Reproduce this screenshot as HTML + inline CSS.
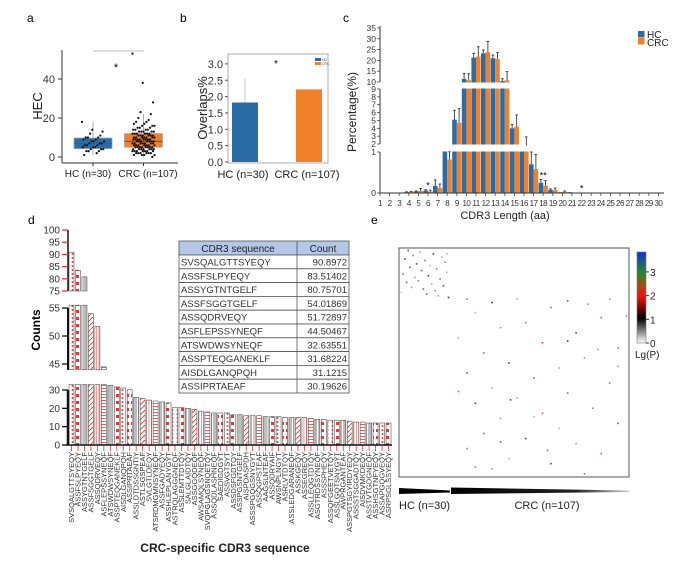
<!DOCTYPE html>
<html><head><meta charset="utf-8"><title>CDR3 figure</title>
<style>
html,body{margin:0;padding:0;background:#fff;}
svg{display:block;font-family:"Liberation Sans",sans-serif;}
</style></head>
<body>
<svg id="fig" width="691" height="565" viewBox="0 0 691 565">
<defs>
  <pattern id="pat-dots" patternUnits="userSpaceOnUse" width="5" height="4"><rect width="5" height="4" fill="#fff"/><circle cx="2.5" cy="2" r="1" fill="#e8383a"/></pattern>
  <pattern id="pat-blocks" patternUnits="userSpaceOnUse" width="5" height="7"><rect width="5" height="7" fill="#fff"/><rect x="1" y="2" width="3" height="3" fill="#e8383a"/></pattern>
  <pattern id="pat-gray" patternUnits="userSpaceOnUse" width="5" height="5"><rect width="5" height="5" fill="#bdbdbd"/><rect x="2" width="1" height="5" fill="#fff"/></pattern>
  <pattern id="pat-diag" patternUnits="userSpaceOnUse" width="5" height="5"><rect width="5" height="5" fill="#fff"/><path d="M0 5L5 0" stroke="#e8383a" stroke-width="0.9"/></pattern>
  <pattern id="pat-vert" patternUnits="userSpaceOnUse" width="2.5" height="5"><rect width="2.5" height="5" fill="#fff"/><rect x="1" width="0.8" height="5" fill="#f08080"/></pattern>
  <pattern id="pat-hz" patternUnits="userSpaceOnUse" width="5" height="3"><rect width="5" height="3" fill="#fff"/><rect y="1" width="5" height="0.8" fill="#e8383a"/></pattern>
  <linearGradient id="cbar" x1="0" y1="0" x2="0" y2="1">
    <stop offset="0" stop-color="#1a2ad8"/><stop offset="0.23" stop-color="#1f8a2a"/>
    <stop offset="0.36" stop-color="#a05010"/><stop offset="0.49" stop-color="#f01010"/>
    <stop offset="0.73" stop-color="#000"/><stop offset="1" stop-color="#fff"/>
  </linearGradient>
  <linearGradient id="wedge" x1="0" y1="0" x2="1" y2="0">
    <stop offset="0" stop-color="#000"/><stop offset="0.7" stop-color="#222"/><stop offset="1" stop-color="#ccc"/>
  </linearGradient>
</defs>
<text x="27" y="22" font-size="12">a</text>
<text x="180" y="22" font-size="12">b</text>
<text x="343" y="22" font-size="12">c</text>
<text x="28" y="224" font-size="12">d</text>
<text x="371" y="224" font-size="12">e</text>
</svg>
<script>
// ---------- data ----------
const hecHC = [18,14,13,12,11,10,10,10,9,9,8,8,8,7,7,7,6,6,6,5,5,5,4,4,4,3,3,3,2,1];
const hecCRC = [53,38,28,23,22,20,19,18,18,17,17,16,16,16,15,15,15,14,14,14,14,13,13,13,13,13,12,12,12,12,12,12,11,11,11,11,11,11,10,10,10,10,10,10,10,9,9,9,9,9,9,9,9,8,8,8,8,8,8,8,7,7,7,7,7,7,7,6,6,6,6,6,6,6,5,5,5,5,5,5,5,5,4,4,4,4,4,4,4,3,3,3,3,3,3,3,2,2,2,2,2,2,1,1,1,1,0];
const hecTicks = [0,20,40];

const overlapCats = ['HC (n=30)','CRC (n=107)'];
const overlapVals = [1.82,2.22];
const overlapErr = [0.73,0];
const overlapTicks = ['0.0','0.5','1.0','1.5','2.0','2.5','3.0'];

const lenCats = [1,2,3,4,5,6,7,8,9,10,11,12,13,14,15,16,17,18,19,20,21,22,23,24,25,26,27,28,29,30];
const lenHC  = [0,0,0.01,0.02,0.04,0.06,0.17,1.3,5.1,11.5,21.3,23.3,21.0,10.5,4.0,1.6,0.70,0.25,0.08,0.02,0.02,0.01,0,0,0,0,0,0,0,0];
const lenCRC = [0,0,0.01,0.03,0.05,0.04,0.12,0.82,4.7,10.8,21.8,23.8,20.6,10.8,4.2,1.8,0.58,0.18,0.07,0.03,0.01,0,0,0,0,0,0,0,0,0];
const lenErrHC  = [0,0,0,0.01,0.01,0.02,0.15,0,1.2,2.5,2.0,1.5,1.5,1.0,0.5,0,0.30,0.08,0.02,0,0,0,0,0,0,0,0,0,0,0];
const lenErrCRC = [0,0,0,0.01,0.06,0.03,0.10,0.2,1.8,3.0,4.5,5.0,3.0,4.0,1.5,1.1,0.36,0.12,0.05,0.02,0,0,0,0,0,0,0,0,0,0];
const lenSig = [[6,'*'],[18,'**'],[22,'*']];

const seqNames = ['SVSQALGTTSYEQY','ASSFSLPYEQY','ASSYGTNTGELF','ASSFSGGTGELF','ASSQDRVEQY','ASFLEPSSYNEQF','ATSWDWSYNEQF','ASSPTEQGANEKLF','AISDLGANQPQH','ASSIPRTAEAF','ASSLDTDSSGNTIY','ASTLSGSPEAF','SVLGTLDEQY','ATSRDMGMNSYNEQF','ASSFGADYEQY','ASSHLEPLANYGYT','ASTRQLAGGGNEQF','ASSLEMTTDTQY','SALGLAIDTQY','ASSGGQDEQF','AWSAMQLSYNEQF','SVQPGLAGSNQETQY','ASSQDLASHNEQF','SAEDIGDGYT','ASSVGTSYT','ASSDSFGDTQY','ASSPGSNTGELF','AISPDASPDH','ASSSPGQGSNYGYT','ASSQGPSTEAF','AAGSLNTEAF','ASSQDRYAIF','AWSNPLNGYT','ASRLVTDTQY','ASSLEDGARANEQF','ASSKGEQY','ASSEGREQY','ASSLLEQGTDTQY','ASGTRDSSYNEQF','ASSSPHEQY','ASSQFGEETVETQY','ASSLGQTSNYGYT','AWPRGANTEAF','ASSPGTSGYIRDYEQY','ASSSTSGGADTQY','AISDVMKDEQY','ASSTVTGDGNEQF','ASSHSGTNFYEQY','ASSAPGQGVEQY','ASRPSGLSSYEQY'];
const seqCounts = [90.9,83.5,80.8,54.0,51.7,44.5,32.6,31.7,31.1,30.2,26,25.5,24.5,24,23.5,23,20.5,20.5,20,19.5,18.5,18,17.5,17.5,17.5,16.5,16.5,16,16,16,15.5,15.5,15.5,15,15,15,15,14.5,14,14,13.5,13.5,13.5,13,12.5,12.5,12,12,12,12];
const tableCounts = ['90.8972','83.51402','80.75701','54.01869','51.72897','44.50467','32.63551','31.68224','31.1215','30.19626'];
const countTicksTop = [75,80,85,90,95,100];
const countTicksMid = [45,50,55];
const countTicksLow = [0,10,20,30];

const cellRows = [1,2,3,4,5,6,7,8,9,10,11,12,13,14,15,16,17,18,19,20,21,22,23,24,25,26,27,28,29,3,
 30,30,31,30,32,35,38,41,44,47,50,53,56,59,62,65,68,71,74,77,80,83,86,89,92,95,98,101,104,107,110,113,116,119,122,125,128,131,134,40,55,70,85,100,115,130,60,90,120,33];
const cellCols = [5,12,20,8,25,3,15,27,10,18,6,22,13,28,2,17,9,24,11,4,19,26,7,14,21,1,16,23,29,28,
 40,70,100,125,55,90,45,120,75,60,105,35,85,130,50,110,65,95,40,80,125,55,100,70,45,115,85,60,130,95,50,75,105,40,120,65,90,55,110,135,100,130,35,80,60,45,118,66,88,112];
const cellVals = [.8,.5,1,.6,.4,1.2,.7,.5,.9,.3,1.5,.6,.8,.4,.7,1,.5,2,.6,.8,.4,.9,.5,1.7,.6,.3,.8,.5,1,.4,
 .6,.4,.8,.5,1,.7,.4,2,.6,.5,.9,.4,1.8,.6,.7,.5,1,.4,.8,2,.6,.5,.7,.4,1,.6,2,.5,.8,.4,.7,1.1,.5,.6,2,.4,.9,.5,.7,.6,1,.5,2,.4,.8,.6,.5,1,.7,.5];
const cbarTicks = [0,1,2,3];

// ---------- helpers ----------
const NS = 'http://www.w3.org/2000/svg';
const svg = document.getElementById('fig');
function el(tag, parent, attrs) {
  const e = document.createElementNS(NS, tag);
  for (const k in attrs) e.setAttribute(k, attrs[k]);
  parent.appendChild(e);
  return e;
}
function grp(name) {
  const g = el('g', svg, {});
  
  
  return g;
}
const BLUE = '#2b6ca6', ORANGE = '#f0802a';

// ---------- panel a ----------
(function () {
  const g = grp('panel-a-hec-boxplot');
  const yA = v => 157 - v * 1.95;
  let e;
  e = el('line', g, {x1: 62, y1: 50, x2: 62, y2: 163, stroke: '#333', 'stroke-width': 1});
  
  
  e = el('line', g, {x1: 62, y1: 163, x2: 178, y2: 163, stroke: '#333', 'stroke-width': 1});
  
  
  hecTicks.forEach(t => {
    const tk = el('line', g, {x1: 58, y1: yA(t), x2: 62, y2: yA(t), stroke: '#333'});
    
    
    const tl = el('text', g, {x: 55, y: yA(t) + 4, 'font-size': 11, 'text-anchor': 'end', fill: '#333'});
    tl.textContent = t;
    
    
  });
  e = el('text', g, {x: 0, y: 0, 'font-size': 13, 'text-anchor': 'middle', transform: 'translate(42,106) rotate(-90)', fill: '#222'});
  e.textContent = 'HEC';
  
  

  const q = (arr, p) => { const s = [...arr].sort((a, b) => a - b); const i = (s.length - 1) * p; const lo = Math.floor(i); return s[lo] + (s[Math.min(lo + 1, s.length - 1)] - s[lo]) * (i - lo); };
  const groups = [[hecHC, 93, BLUE, 'HC (n=30)', 'hc', 88], [hecCRC, 143.5, ORANGE, 'CRC (n=107)', 'crc', 148]];
  groups.forEach(([d, cx, col, lab, key, lx]) => {
    const q1 = q(d, .25), q3 = q(d, .75), md = q(d, .5), iqr = q3 - q1;
    const inR = d.filter(v => v >= q1 - 1.5 * iqr && v <= q3 + 1.5 * iqr);
    const wl = Math.min(...inR), wh = Math.max(...inR);
    const w = el('line', g, {x1: cx, y1: yA(wh), x2: cx, y2: yA(wl), stroke: '#999', 'stroke-width': 0.8});
    
    
    const b = el('rect', g, {x: cx - 19, y: yA(q3), width: 38, height: yA(q1) - yA(q3), fill: col, stroke: '#aaa', 'stroke-width': 0.8});
    
    
    const m = el('line', g, {x1: cx - 19, y1: yA(md), x2: cx + 19, y2: yA(md), stroke: '#555', 'stroke-width': 1});
    
    
    d.forEach((v, i) => {
      const jx = ((i * 7919) % 31 - 15) / 15 * 11;
      const p = el('circle', g, {cx: cx + jx, cy: yA(v), r: 1.1, fill: '#111'});
      
      
    });
    const tk = el('line', g, {x1: cx, y1: 163, x2: cx, y2: 166, stroke: '#333'});
    
    
    const tl = el('text', g, {x: lx, y: 177, 'font-size': 10, 'text-anchor': 'middle', fill: '#222'});
    tl.textContent = lab;
    
    
  });
  e = el('line', g, {x1: 93, y1: 51, x2: 144, y2: 51, stroke: '#aaa', 'stroke-width': 0.8});
  
  
  e = el('text', g, {x: 116, y: 71, 'font-size': 11, 'text-anchor': 'middle'});
  e.textContent = '*';
  
  
})();

// ---------- panel b ----------
(function () {
  const g = grp('panel-b-overlap-bars');
  const yB = v => 162 - v * 32.7;
  let e;
  e = el('rect', g, {x: 228, y: 54, width: 100, height: 109, fill: 'none', stroke: '#999', 'stroke-width': 0.8});
  
  
  overlapTicks.forEach(t => {
    const v = parseFloat(t);
    const tk = el('line', g, {x1: 225, y1: yB(v), x2: 228, y2: yB(v), stroke: '#555'});
    
    
    const tl = el('text', g, {x: 223, y: yB(v) + 4, 'font-size': 11, 'text-anchor': 'end', fill: '#333'});
    tl.textContent = t;
    
    
  });
  const cxs = [245, 309];
  overlapVals.forEach((v, i) => {
    const b = el('rect', g, {x: cxs[i] - 13, y: yB(v), width: 26, height: yB(0) - yB(v), fill: i ? ORANGE : BLUE});
    
    
    if (overlapErr[i] > 0) {
      const er = el('line', g, {x1: cxs[i], y1: yB(v + overlapErr[i]), x2: cxs[i], y2: yB(v), stroke: '#bbb', 'stroke-width': 0.8});
      
      
    }
    const tl = el('text', g, {x: cxs[i] - 2, y: 178, 'font-size': 11, 'text-anchor': 'middle', fill: '#222'});
    tl.textContent = overlapCats[i];
    
    
  });
  e = el('text', g, {x: 0, y: 0, 'font-size': 13, 'text-anchor': 'middle', transform: 'translate(207,108) rotate(-90)', fill: '#222'});
  e.textContent = 'Overlaps%';
  
  
  e = el('text', g, {x: 276, y: 67, 'font-size': 10, 'text-anchor': 'middle'});
  e.textContent = '*';
  
  
  e = el('rect', g, {x: 315, y: 58, width: 6, height: 3, fill: BLUE});
  
  
  e = el('rect', g, {x: 315, y: 62, width: 6, height: 3, fill: ORANGE});
  
  
  e = el('text', g, {x: 322, y: 61, 'font-size': 3.5, fill: '#555'});
  e.textContent = 'HC';
  
  
  e = el('text', g, {x: 322, y: 65, 'font-size': 3.5, fill: '#555'});
  e.textContent = 'CRC';
  
  
})();

// ---------- panel c ----------
(function () {
  const g = grp('panel-c-length-distribution');
  const yC = v => {
    if (v <= 1) return 193 - v * 41;
    if (v < 2) return 152 - (v - 1) * 8;
    if (v <= 9) return 144 - (v - 2) * (55 / 7);
    if (v < 10) return 89 - (v - 9) * 7;
    return 82 - (v - 10) * 2.16;
  };
  const xC = c => 380 + (c - 1) * 9.6;
  lenCats.forEach((c, i) => {
    const x = xC(c);
    if (lenHC[i] > 0) {
      const b = el('rect', g, {x: x - 4.6, y: yC(lenHC[i]), width: 4.6, height: 193 - yC(lenHC[i]), fill: BLUE});
      
      
    }
    if (lenCRC[i] > 0) {
      const b = el('rect', g, {x: x, y: yC(lenCRC[i]), width: 4.6, height: 193 - yC(lenCRC[i]), fill: ORANGE});
      
      
    }
  });
  let e;
  e = el('rect', g, {x: 370, y: 144.5, width: 295, height: 7, fill: '#fff'});
  
  
  e = el('rect', g, {x: 370, y: 82.5, width: 295, height: 6, fill: '#fff'});
  
  
  lenCats.forEach((c, i) => {
    const x = xC(c);
    [[lenHC[i], lenErrHC[i], x - 2.3], [lenCRC[i], lenErrCRC[i], x + 2.3]].forEach(([v, er, ex]) => {
      if (er > 0) {
        const l = el('line', g, {x1: ex, y1: yC(v + er), x2: ex, y2: yC(v), stroke: '#222', 'stroke-width': 0.8});
        
        
        const cap = el('line', g, {x1: ex - 1.3, y1: yC(v + er), x2: ex + 1.3, y2: yC(v + er), stroke: '#222', 'stroke-width': 0.8});
        
        
      }
    });
    const tk = el('line', g, {x1: x, y1: 193, x2: x, y2: 196, stroke: '#333', 'stroke-width': 0.7});
    
    
    const tl = el('text', g, {x: x, y: 206, 'font-size': 8, 'letter-spacing': -0.5, 'text-anchor': 'middle', fill: '#333'});
    tl.textContent = c;
    
    
  });
  [[26, 82], [89, 144], [152, 193]].forEach(([a, b]) => {
    const l = el('line', g, {x1: 380, y1: a, x2: 380, y2: b, stroke: '#333', 'stroke-width': 1});
    
    
  });
  e = el('line', g, {x1: 380, y1: 193, x2: 664, y2: 193, stroke: '#333', 'stroke-width': 1});
  
  
  const yTicks = [0, 1, 2, 3, 4, 5, 6, 7, 8, 9, 10, 15, 20, 25, 30, 35];
  yTicks.forEach(t => {
    const tk = el('line', g, {x1: 377, y1: yC(t), x2: 380, y2: yC(t), stroke: '#333', 'stroke-width': 0.7});
    
    
    const tl = el('text', g, {x: 376, y: yC(t) + 3, 'font-size': 8.5, 'text-anchor': 'end', fill: '#333'});
    tl.textContent = t;
    
    
  });
  lenSig.forEach(([c, s]) => {
    const i = c - 1;
    const top = Math.max(lenHC[i] + lenErrHC[i], lenCRC[i] + lenErrCRC[i]);
    const t = el('text', g, {x: xC(c), y: yC(top) - 1, 'font-size': 9, 'text-anchor': 'middle'});
    t.textContent = s;
    
    
  });
  e = el('text', g, {x: 0, y: 0, 'font-size': 12, 'text-anchor': 'middle', transform: 'translate(356,112) rotate(-90)', fill: '#222'});
  e.textContent = 'Percentage(%)';
  
  
  e = el('text', g, {x: 505, y: 219, 'font-size': 11, 'text-anchor': 'middle', fill: '#222'});
  e.textContent = 'CDR3 Length (aa)';
  
  
  e = el('rect', g, {x: 638, y: 31, width: 6.5, height: 6.5, fill: BLUE});
  
  
  e = el('rect', g, {x: 638, y: 38, width: 6.5, height: 6.5, fill: ORANGE});
  
  
  e = el('text', g, {x: 647, y: 38, 'font-size': 10, fill: '#222'});
  e.textContent = 'HC';
  
  
  e = el('text', g, {x: 647, y: 46, 'font-size': 10, fill: '#222'});
  e.textContent = 'CRC';
  
  
})();

// ---------- panel d ----------
(function () {
  const g = grp('panel-d-crc-specific-counts');
  const pats = ['pat-dots', 'pat-blocks', 'pat-gray', 'pat-diag', 'pat-vert', 'pat-hz', 'pat-gray', 'pat-blocks'];
  const xD = i => 69 + i * 6.47;
  const segs = [
    {lo: 75, hi: 100, y: v => 291 - (v - 75) * 2.44},
    {lo: 44, hi: 55.5, y: v => 364 - (v - 45) * 5.6},
    {lo: 0, hi: 33, y: v => 445 - v * 1.833}
  ];
  seqCounts.forEach((v, i) => {
    segs.forEach((s, si) => {
      if (v <= s.lo) return;
      const top = s.y(Math.min(v, s.hi)), bot = s.y(s.lo);
      const b = el('rect', g, {x: xD(i), y: top, width: 5, height: bot - top, fill: 'url(#' + pats[i % pats.length] + ')', stroke: '#555', 'stroke-width': 0.6});
      
      
    });
    const tk = el('line', g, {x1: xD(i) + 2.5, y1: 445, x2: xD(i) + 2.5, y2: 451, stroke: '#e8383a', 'stroke-width': 0.8});
    
    
    const tl = el('text', g, {x: 0, y: 0, 'font-size': 7.5, 'text-anchor': 'end', fill: '#333', transform: 'translate(' + (xD(i) + 5) + ',452) rotate(-90)'});
    tl.textContent = seqNames[i];
    
    
  });
  const axes = [[230, 291, 1.5, countTicksTop, segs[0], '#e8383a'], [291, 370, 2, countTicksMid, segs[1], '#111'], [384, 445, 2.5, countTicksLow, segs[2], '#111']];
  axes.forEach(([a, b, w, ticks, s, tc]) => {
    const l = el('line', g, {x1: 68, y1: s.y(ticks[ticks.length - 1]), x2: 68, y2: b, stroke: '#111', 'stroke-width': w});
    
    
    ticks.forEach(t => {
      const tk = el('line', g, {x1: 62, y1: s.y(t), x2: 68, y2: s.y(t), stroke: tc, 'stroke-width': 1.3});
      
      
      const tl = el('text', g, {x: 60, y: s.y(t) + 3.5, 'font-size': 10, 'text-anchor': 'end', fill: '#333'});
      tl.textContent = t;
      
      
    });
  });
  let e;
  e = el('line', g, {x1: 66, y1: 445, x2: 392, y2: 445, stroke: '#111', 'stroke-width': 1.5});
  
  
  e = el('text', g, {x: 0, y: 0, 'font-size': 12, 'font-weight': 'bold', 'text-anchor': 'middle', transform: 'translate(40,330) rotate(-90)'});
  e.textContent = 'Counts';
  
  
  e = el('text', g, {x: 225, y: 552, 'font-size': 12, 'font-weight': 'bold', 'text-anchor': 'middle', fill: '#222'});
  e.textContent = 'CRC-specific CDR3 sequence';
  
  

  // table
  const tg = el('g', g, {});
  
  
  const x0 = 179, x1 = 297, x2 = 349, hy = 241, rh = 13.8;
  e = el('rect', tg, {x: x0, y: hy, width: x2 - x0, height: 14, fill: '#b4c7e7', stroke: '#555', 'stroke-width': 0.8});
  
  
  e = el('text', tg, {x: (x0 + x1) / 2, y: hy + 11, 'font-size': 10, 'text-anchor': 'middle', fill: '#222'});
  e.textContent = 'CDR3 sequence';
  
  
  e = el('text', tg, {x: (x1 + x2) / 2, y: hy + 11, 'font-size': 10, 'text-anchor': 'middle', fill: '#222'});
  e.textContent = 'Count';
  
  
  tableCounts.forEach((c, i) => {
    const y = hy + 14 + i * rh;
    const r = el('rect', tg, {x: x0, y: y, width: x2 - x0, height: rh, fill: '#fff', stroke: '#555', 'stroke-width': 0.8});
    
    
    const a = el('text', tg, {x: x0 + 2, y: y + 10.5, 'font-size': 9.5, fill: '#333'});
    a.textContent = seqNames[i];
    
    
    const b = el('text', tg, {x: x2 - 2, y: y + 10.5, 'font-size': 9.5, 'text-anchor': 'end', fill: '#333'});
    b.textContent = c;
    
    
  });
  e = el('line', tg, {x1: x1, y1: hy, x2: x1, y2: hy + 14 + 10 * rh, stroke: '#555', 'stroke-width': 0.8});
  
  
})();

// ---------- panel e ----------
(function () {
  const g = grp('panel-e-heatmap');
  const X0 = 399, Y0 = 248, S = 230 / 137;
  const stops = [[0, [255, 255, 255]], [1, [0, 0, 0]], [2, [240, 16, 16]], [3, [31, 138, 42]], [3.8, [26, 42, 216]]];
  const col = v => {
    for (let k = 1; k < stops.length; k++) {
      if (v <= stops[k][0]) {
        const [a, ca] = stops[k - 1], [b, cb] = stops[k];
        const t = (v - a) / (b - a);
        return 'rgb(' + ca.map((c, j) => Math.round(c + (cb[j] - c) * t)).join(',') + ')';
      }
    }
    return 'rgb(26,42,216)';
  };
  let e;
  e = el('rect', g, {x: X0, y: Y0, width: 230, height: 229, fill: '#fff', stroke: '#555', 'stroke-width': 1});
  
  
  cellVals.forEach((v, i) => {
    const c = el('rect', g, {x: X0 + cellCols[i] * S, y: Y0 + cellRows[i] * S, width: 1.6, height: 1.6, fill: col(v), opacity: 0.75});
    
    
  });
  e = el('rect', g, {x: 637, y: 252, width: 9, height: 91, fill: 'url(#cbar)', stroke: '#777', 'stroke-width': 0.6});
  
  
  const yCb = v => 343 - v * 23.7;
  cbarTicks.forEach(t => {
    const tk = el('line', g, {x1: 646, y1: yCb(t), x2: 649, y2: yCb(t), stroke: '#333'});
    
    
    const tl = el('text', g, {x: 650, y: yCb(t) + 4, 'font-size': 10, fill: '#222'});
    tl.textContent = t;
    
    
  });
  e = el('text', g, {x: 635, y: 358, 'font-size': 10, fill: '#222'});
  e.textContent = 'Lg(P)';
  
  
  e = el('polygon', g, {points: '399,488 450,490.5 450,492.5 399,494', fill: '#000'});
  
  
  e = el('polygon', g, {points: '451,487.5 629,490.5 629,492 451,494', fill: 'url(#wedge)'});
  
  
  e = el('text', g, {x: 399, y: 509, 'font-size': 11, fill: '#222'});
  e.textContent = 'HC (n=30)';
  
  
  e = el('text', g, {x: 547, y: 509, 'font-size': 11, 'text-anchor': 'middle', fill: '#222'});
  e.textContent = 'CRC (n=107)';
  
  
})();
</script>
</body></html>
